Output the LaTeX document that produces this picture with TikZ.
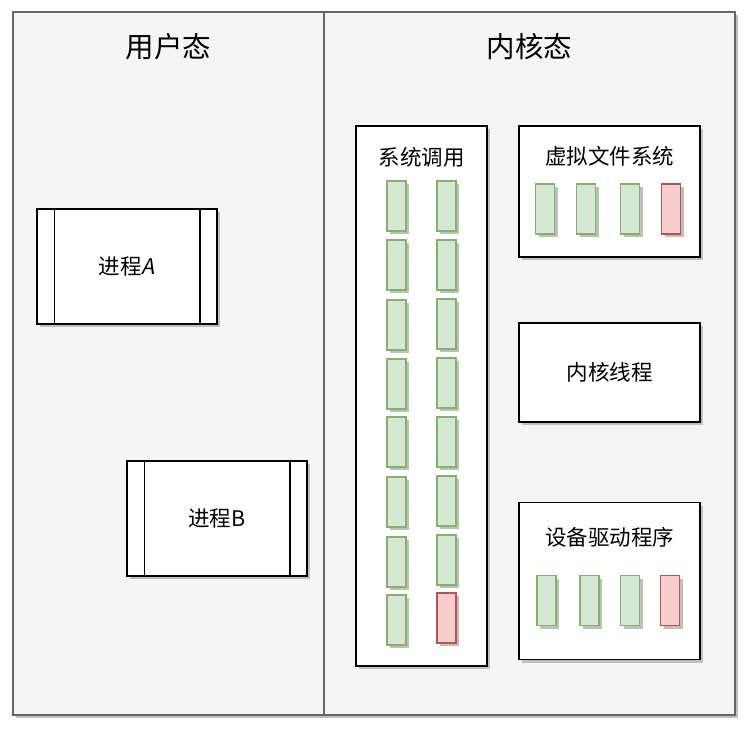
\documentclass[tikz,border=0pt]{standalone}
\usepackage{fontspec}
\setmainfont{Noto Sans CJK SC}
\newfontfamily\slantfont[FakeSlant=0.2]{Noto Sans CJK SC}
\usetikzlibrary{shadows}
\definecolor{lanefill}{HTML}{F5F5F5}
\definecolor{laneline}{HTML}{666666}
\definecolor{okfill}{HTML}{D5E8D4}
\definecolor{okline}{HTML}{82B366}
\definecolor{badfill}{HTML}{F8CECC}
\definecolor{badline}{HTML}{B85450}
\tikzset{
  shade3/.style={drop shadow={shadow xshift=3pt, shadow yshift=-3pt, fill=black!25, opacity=1}},
  lane/.style={draw=laneline, fill=lanefill, line width=1.5pt, shade3},
  box/.style={draw, fill=white, line width=1.5pt, shade3, inner sep=0pt},
  slot/.style={draw=okline, fill=okfill, line width=1.2pt, shade3, minimum width=19pt, minimum height=50pt, inner sep=0pt},
  badslot/.style={slot, draw=badline, fill=badfill},
  lanetitle/.style={font=\fontsize{28.5}{32}\selectfont},
  boxtext/.style={font=\fontsize{21.5}{25}\selectfont}
}
\begin{document}
\begin{tikzpicture}[x=1pt, y=-1pt]
\useasboundingbox (0,0) rectangle (756,737);
% lanes
\draw[lane] (13,12) rectangle (324,715);
\draw[lane] (324,12) rectangle (735,715);
\node[lanetitle] (user) at (168.5,47) {用户态};
\node[lanetitle] (kernel) at (529.5,47) {内核态};
% processes
\node[box, minimum width=180pt, minimum height=115pt] (pa) at (127,266.5) {};
\draw[line width=1.5pt] ([xshift=18pt]pa.north west) -- ([xshift=18pt]pa.south west);
\draw[line width=1.5pt] ([xshift=-18pt]pa.north east) -- ([xshift=-18pt]pa.south east);
\node[boxtext] (pat) at (pa.center) {进程{\slantfont A}};
\node[box, minimum width=180pt, minimum height=115pt] (pb) at (217,518.5) {};
\draw[line width=1.5pt] ([xshift=18pt]pb.north west) -- ([xshift=18pt]pb.south west);
\draw[line width=1.5pt] ([xshift=-18pt]pb.north east) -- ([xshift=-18pt]pb.south east);
\node[boxtext] (pbt) at (pb.center) {进程B};
% system calls
\node[box, minimum width=131pt, minimum height=540pt] (sc) at (421.5,396) {};
\node[boxtext] (sct) at (421.5,157) {系统调用};
\node[slot] (s1) at (396.5,206) {};
\node[slot] (s2) at (396.5,265) {};
\node[slot] (s3) at (396.5,325) {};
\node[slot] (s4) at (396.5,384) {};
\node[slot] (s5) at (396.5,442) {};
\node[slot] (s6) at (396.5,502) {};
\node[slot] (s7) at (396.5,562) {};
\node[slot] (s8) at (396.5,620) {};
\node[slot] (s9) at (446.5,206) {};
\node[slot] (s10) at (446.5,265) {};
\node[slot] (s11) at (446.5,324) {};
\node[slot] (s12) at (446.5,383) {};
\node[slot] (s13) at (446.5,442) {};
\node[slot] (s14) at (446.5,501) {};
\node[slot] (s15) at (446.5,560) {};
\node[badslot] (s16) at (446.5,618) {};
% virtual file system
\node[box, minimum width=181pt, minimum height=131pt] (vfs) at (609.5,191.5) {};
\node[boxtext] (vfst) at (609.5,156) {虚拟文件系统};
\node[slot] (v1) at (545,209) {};
\node[slot] (v2) at (586,209) {};
\node[slot] (v3) at (630,209) {};
\node[badslot] (v4) at (671,209) {};
% kernel threads
\node[box, minimum width=181pt, minimum height=99pt] (kt) at (609.5,372.5) {};
\node[boxtext] (ktt) at (kt.center) {内核线程};
% device drivers
\node[box, minimum width=181pt, minimum height=157pt] (dd) at (609.5,581) {};
\node[boxtext] (ddt) at (609.5,537) {设备驱动程序};
\node[slot] (d1) at (546.5,600.5) {};
\node[slot] (d2) at (589.5,600.5) {};
\node[slot] (d3) at (630,600.5) {};
\node[badslot] (d4) at (670,600.5) {};
\end{tikzpicture}
\end{document}
